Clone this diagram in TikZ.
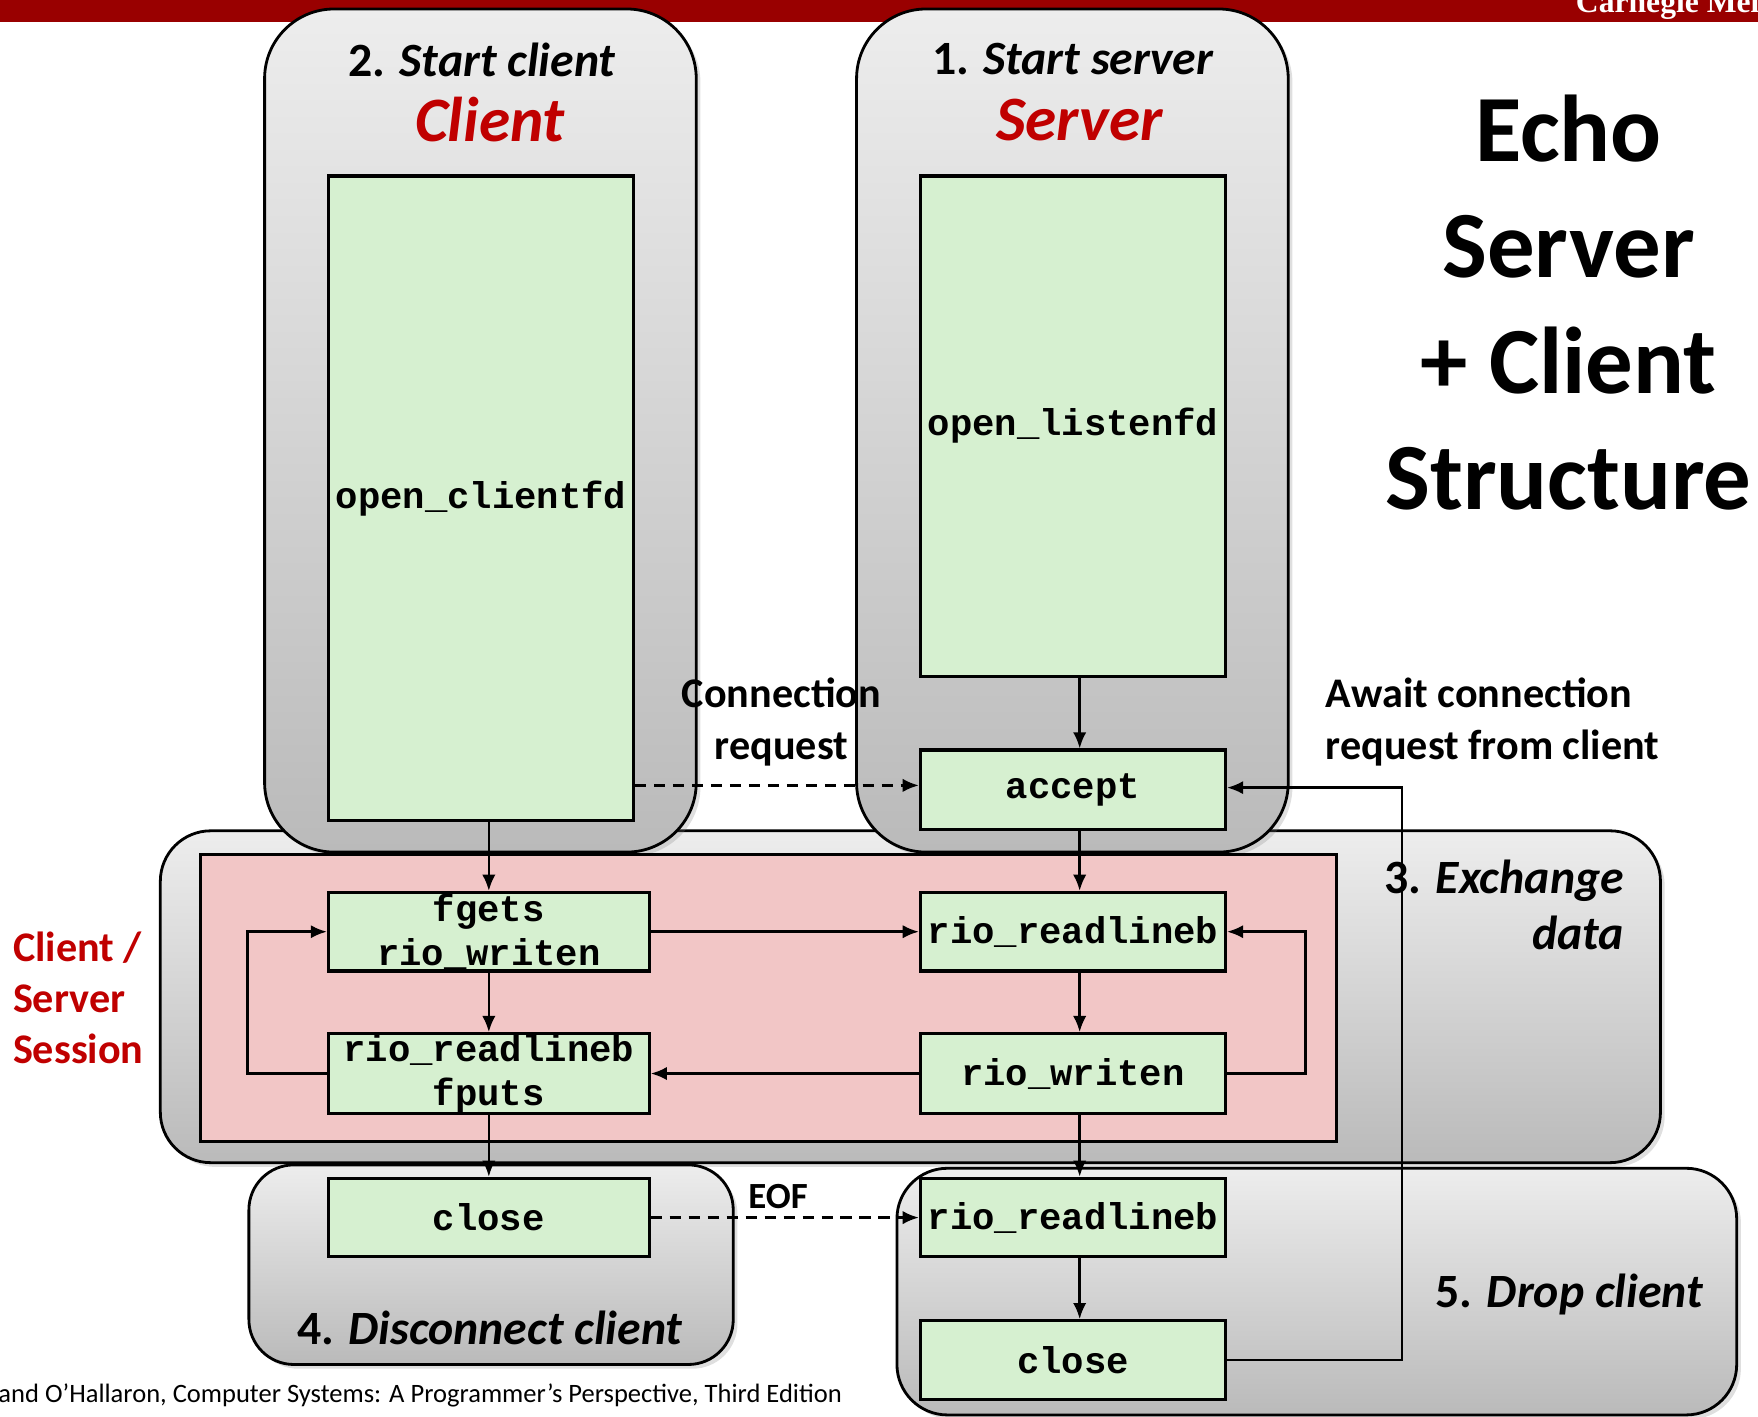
\documentclass[tikz,border=0pt]{standalone}
\usepackage{fontspec}
\setmainfont{Carlito}
\newfontfamily\codefont{Liberation Mono}
\newfontfamily\logofont{Liberation Serif}
\usetikzlibrary{arrows.meta,shadows}
\definecolor{cmured}{RGB}{153,0,0}
\definecolor{titlered}{RGB}{192,0,0}
\definecolor{boxgreen}{RGB}{214,240,208}
\definecolor{sessionpink}{RGB}{242,198,198}
\definecolor{grouptop}{RGB}{237,237,237}
\definecolor{groupbot}{RGB}{186,186,186}
\newcommand{\pu}{0.011212cm}
\newcommand{\fs}[2]{\fontsize{#1}{#2}\selectfont}

\begin{document}
\begin{tikzpicture}[x=\pu, y=-\pu,
  group/.style={draw=black, line width=0.8pt, top color=grouptop, bottom color=groupbot,
    drop shadow={shadow xshift=1.2pt, shadow yshift=-1.2pt, opacity=0.25}},
  fn/.style={draw=black, line width=0.9pt, fill=boxgreen, inner sep=0pt, align=center,
    font=\codefont\bfseries\fs{10.6}{12.6}},
  conn/.style={line width=0.75pt, -{Latex[length=4.6pt,width=3.8pt]}},
  dasharrow/.style={conn, dash pattern=on 3.2pt off 2.2pt},
  lbl/.style={font=\bfseries\fs{12}{14.6}, align=center, inner sep=0pt},
  stage/.style={font=\bfseries\fs{13.6}{16}, inner sep=0pt}]
\useasboundingbox (0,0) rectangle (1568,1263);

% banner
\fill[cmured] (0,0) rectangle (1568,20);
\node[anchor=base west, inner sep=0pt, text=white, font=\logofont\bfseries\fs{9}{10}] (logo) at (1405,11) {Carnegie Mellon};

% stage groups
\path[group, rounded corners=45*\pu] (143,741) rectangle (1481,1037);
\path[group, rounded corners=62*\pu] (236,8) rectangle (621,760);
\path[group, rounded corners=62*\pu] (764,8) rectangle (1149,760);
\draw[line width=0.8pt, fill=sessionpink] (179,762) rectangle (1192,1018);
\path[group, rounded corners=40*\pu] (222,1039) rectangle (654,1217);
\path[group, rounded corners=45*\pu] (800,1042) rectangle (1549,1262);

% functions
\node[fn, minimum width=272*\pu, minimum height=575*\pu] (clientfd) at (429,444.5) {open\_clientfd};
\node[fn, minimum width=272*\pu, minimum height=446*\pu] (listenfd) at (957,380) {open\_listenfd};
\node[fn, minimum width=272*\pu, minimum height=71*\pu] (accept) at (957,704.5) {accept};
\node[fn, minimum width=286*\pu, minimum height=70*\pu] (fgets) at (436,831) {fgets\\rio\_writen};
\node[fn, minimum width=272*\pu, minimum height=70*\pu] (srvread) at (957,831) {rio\_readlineb};
\node[fn, minimum width=286*\pu, minimum height=71*\pu] (cliread) at (436,957.5) {rio\_readlineb\\fputs};
\node[fn, minimum width=272*\pu, minimum height=71*\pu] (srvwrite) at (957,957.5) {rio\_writen};
\node[fn, minimum width=286*\pu, minimum height=70*\pu] (cliclose) at (436,1086) {close};
\node[fn, minimum width=272*\pu, minimum height=70*\pu] (dropread) at (957,1086) {rio\_readlineb};
\node[fn, minimum width=272*\pu, minimum height=70*\pu] (dropclose) at (957,1213) {close};

% connectors
\draw[conn] (fgets.north |- clientfd.south) -- (fgets.north);
\draw[dasharrow] ([yshift=4*\pu]clientfd.east |- accept.west) -- ([yshift=4*\pu]accept.west);
\draw[conn] ([xshift=6*\pu]listenfd.south) -- ([xshift=6*\pu]accept.north);
\draw[conn] ([xshift=6*\pu]accept.south) -- ([xshift=6*\pu]srvread.north);
\draw[conn] (fgets.east) -- (srvread.west);
\draw[conn] (fgets.south) -- (cliread.north);
\draw[conn] ([xshift=6*\pu]srvread.south) -- ([xshift=6*\pu]srvwrite.north);
\draw[conn] (srvwrite.west) -- (cliread.east);
\draw[conn] (srvwrite.east) -- ++(70,0) |- (srvread.east);
\draw[conn] (cliread.west) -- ++(-71,0) |- (fgets.west);
\draw[conn] (cliread.south) -- (cliclose.north);
\draw[conn] ([xshift=6*\pu]srvwrite.south) -- ([xshift=6*\pu]dropread.north);
\draw[dasharrow] (cliclose.east) -- (dropread.west);
\draw[conn] ([xshift=6*\pu]dropread.south) -- ([xshift=6*\pu]dropclose.north);
\draw[conn] (dropclose.east) -- ++(156,0) |- ([yshift=2*\pu]accept.east);

% labels
\node[stage] (startcli) at (430,53) {2. \textit{Start client}};
\node[stage, text=titlered, font=\bfseries\itshape\fs{18}{20}] (clititle) at (437,107) {Client};
\node[stage] (startsrv) at (957,53) {1. \textit{Start server}};
\node[stage, text=titlered, font=\bfseries\itshape\fs{18}{20}] (srvtitle) at (963,107) {Server};
\node[font=\bfseries\fs{27}{33}, align=center, inner sep=0pt] (heading) at (1399,270) {Echo\\Server\\+ Client\\Structure};
\node[lbl] (connreq) at (697,644) {Connection\\request};
\node[lbl, align=left, anchor=west] (await) at (1182,644) {Await connection\\request from client};
\node[stage, align=right, anchor=east, font=\bfseries\fs{13.6}{16}] (exch) at (1449,807) {3. \textit{Exchange}\\\textit{data}};
\node[lbl, align=left, anchor=west, text=titlered, font=\bfseries\fs{12}{14.4}] (session) at (11,890) {Client /\\Server\\Session};
\node[stage] (disc) at (437,1184) {4. \textit{Disconnect client}};
\node[stage, anchor=east] (drop) at (1520,1155) {5. \textit{Drop client}};
\node[lbl, font=\bfseries\fs{10.5}{12}] (eof) at (694,1067) {EOF};
\node[anchor=base west, inner sep=0pt, font=\fs{7.55}{8.4}] (credit) at (-2,1251) {and O’Hallaron, Computer Systems: A Programmer’s Perspective, Third Edition};
\end{tikzpicture}
\end{document}
